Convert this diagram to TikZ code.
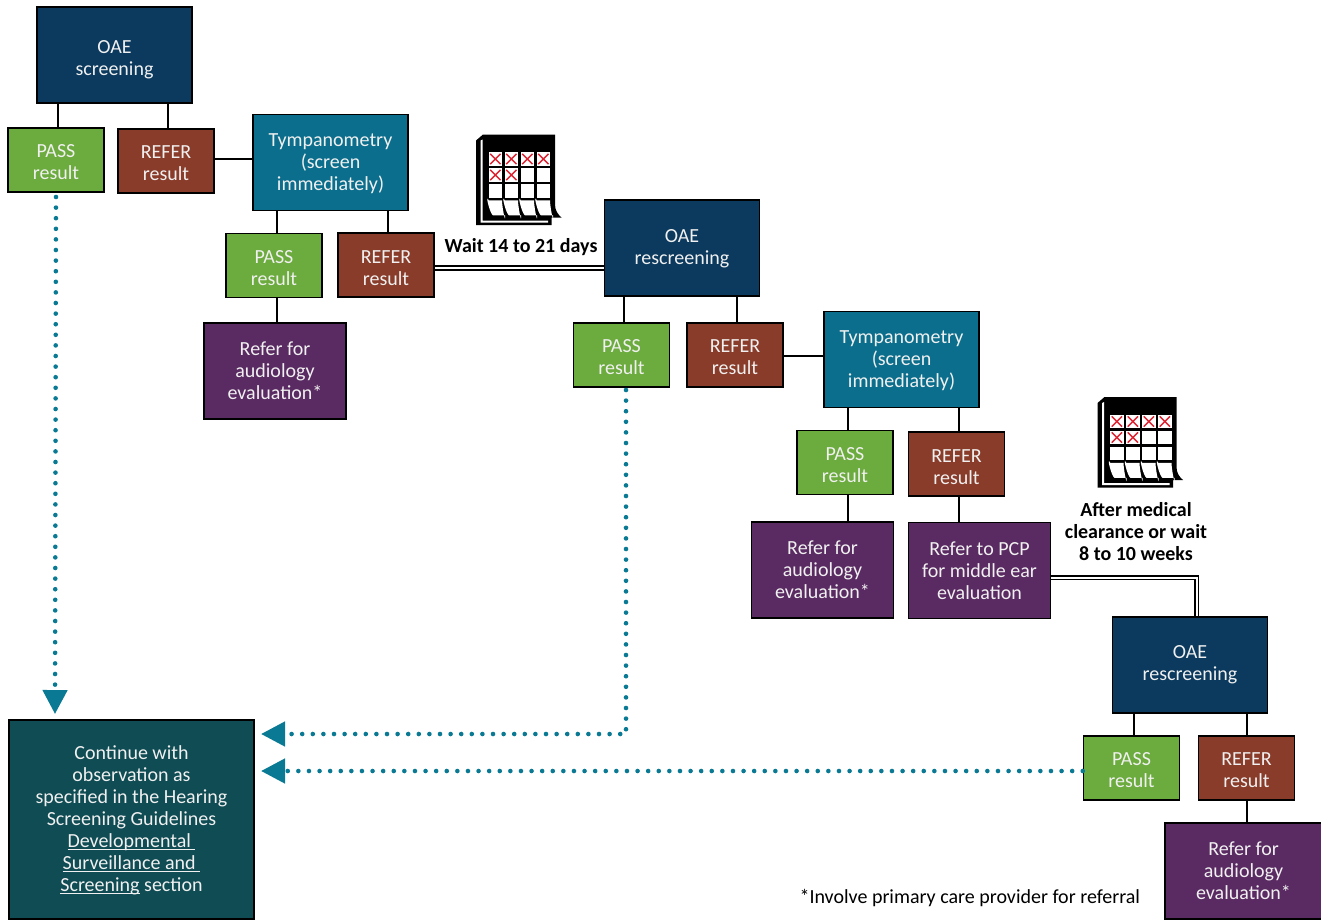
\documentclass[tikz,border=0pt]{standalone}
\usepackage{fontspec}
\setmainfont{Carlito}
\usetikzlibrary{arrows.meta}

\definecolor{navybox}{HTML}{0B3A5E}
\definecolor{tealbox}{HTML}{0B6E8C}
\definecolor{greenbox}{HTML}{6CAB3D}
\definecolor{brownbox}{HTML}{8A3C2A}
\definecolor{purplebox}{HTML}{5A2A62}
\definecolor{pinebox}{HTML}{0F4C54}
\definecolor{dotteal}{HTML}{0A7A94}
\definecolor{crossred}{HTML}{E0202F}

\newcommand{\ulink}[1]{\underline{\smash{#1}}}

\tikzset{
  flowbox/.style={draw=black, line width=1.5pt, text=white!94!black, align=center,
    inner sep=0pt, font=\fontsize{20}{22}\selectfont},
  oaebox/.style={flowbox, fill=navybox, minimum width=155pt, minimum height=96pt},
  tympbox/.style={flowbox, fill=tealbox, minimum width=155pt, minimum height=96pt, text height=60pt},
  passbox/.style={flowbox, fill=greenbox, minimum width=96pt, minimum height=64pt, text height=39pt},
  referbox/.style={flowbox, fill=brownbox, minimum width=96pt, minimum height=64pt, text height=39pt},
  audiobox/.style={flowbox, fill=purplebox, minimum width=142pt, minimum height=96pt},
  conn/.style={draw=black, line width=1.5pt},
  dblconn/.style={draw=black, line width=1.8pt, double=white, double distance=2pt},
  dotconn/.style={draw=dotteal, line width=4.6pt, line cap=round, dash pattern=on 0pt off 10.6pt,
    -{Triangle[width=24pt,length=24pt]}},
  waitlabel/.style={align=center, font=\fontsize{20}{22}\selectfont\bfseries},
  calendar/.pic={
    % page and curl
    \fill[black] (0,6) -- (7,0) -- (79,0) -- (79,70) .. controls (79,76) and (82,80) .. (85.5,83)
      -- (75.5,83) -- (75.5,90.5) -- (0,90.5) -- cycle;
    \fill[white] (4.5,6) -- (6.5,5) -- (6.5,86) -- (72,86) -- (72,88) -- (4.5,88) -- cycle;
    % cells
    \foreach \cx in {0,1,2,3} {
      \foreach \cy in {0,1,2}
      \fill[white] (12.7+16*\cx,17.8+16*\cy) rectangle ++(13.3,13.3);
      \fill[white] (12.7+16*\cx,65.8) -- ++(13.3,0) .. controls ++(0,7) and ++(1,11) .. ++(3,15)
        -- ++(-12,0) .. controls ++(-3,-1) and ++(-4,-8) .. cycle;
    }
    % crossed days
    \foreach \cx/\cy in {0/0,1/0,2/0,3/0,0/1,1/1} {
      \draw[crossred, line width=1.5pt] (14.2+16*\cx,19.3+16*\cy) -- ++(10.3,10.3)
        (24.5+16*\cx,19.3+16*\cy) -- ++(-10.3,10.3);
    }
  }
}

\begin{document}
\begin{tikzpicture}[x=1pt,y=-1pt]

  \useasboundingbox (0,0) rectangle (1321,919);

  % first screen
  \node[oaebox, text height=44pt] (oaeA) at (114.5,55) {OAE\\screening};
  \node[passbox] (passA) at (56,160) {PASS\\result};
  \node[referbox] (referA) at (166,161) {REFER\\result};
  \node[tympbox] (tympA) at (330.5,162.5) {Tympanometry\\(screen\\immediately)};
  \node[passbox, text height=41pt] (passB) at (274,265.5) {PASS\\result};
  \node[referbox, text height=41pt] (referB) at (386,265) {REFER\\result};
  \node[audiobox] (audioA) at (275,371) {Refer for\\audiology\\evaluation*};

  % second screen
  \node[oaebox, text height=36pt] (oaeB) at (682,248) {OAE\\rescreening};
  \node[passbox] (passC) at (621.5,355) {PASS\\result};
  \node[referbox] (referC) at (735,355) {REFER\\result};
  \node[tympbox] (tympB) at (901.5,359.5) {Tympanometry\\(screen\\immediately)};
  \node[passbox, text height=41pt] (passD) at (845,462.5) {PASS\\result};
  \node[referbox, text height=41pt] (referD) at (956.5,464) {REFER\\result};
  \node[audiobox] (audioB) at (822.5,570) {Refer for\\audiology\\evaluation*};
  \node[audiobox] (pcp) at (979.5,570.5) {Refer to PCP\\for middle ear\\evaluation};

  % third screen
  \node[oaebox] (oaeC) at (1190,665) {OAE\\rescreening};
  \node[passbox] (passE) at (1131.5,768) {PASS\\result};
  \node[referbox] (referE) at (1246.5,768) {REFER\\result};
  \node[audiobox, minimum width=157pt] (audioC) at (1243.5,871) {Refer for\\audiology\\evaluation*};

  \node[flowbox, fill=pinebox, minimum width=245pt, minimum height=199pt] (cont) at (131.5,819.5)
    {Continue with\\observation as\\specified in the Hearing\\Screening Guidelines\\
     \ulink{Developmental\ }\\\ulink{Surveillance and\ }\\\ulink{Screening} section};

  % vertical connectors
  \foreach \a/\b/\dx in {oaeA/passA/2, oaeA/referA/2, tympA/passB/3, tympA/referB/2, passB/audioA/2,
    oaeB/passC/2.5, oaeB/referC/2, tympB/passD/3, tympB/referD/2.5, passD/audioB/25.5, referD/pcp/-20.5,
    oaeC/passE/2.5, oaeC/referE/0.5, referE/audioC/3.5}
  \draw[conn] ([xshift=\dx]\b.north) -- ([xshift=\dx]\b.north |- \a.south);

  % horizontal connectors
  \draw[conn] ([yshift=2]referA.east) -- ([yshift=2]referA.east -| tympA.west);
  \draw[conn] ([yshift=-1]referC.east) -- ([yshift=-1]referC.east -| tympB.west);

  % double connectors
  \draw[dblconn] ([yshift=-3]referB.east) -- ([yshift=-3]referB.east -| oaeB.west);
  \draw[dblconn] ([yshift=-7]pcp.east) -| ([xshift=6.5]oaeC.north);

  % dotted connectors
  \coordinate (tipA) at (55,714);
  \coordinate (tipB) at (261,734);
  \coordinate (tipC) at (261,771);
  \coordinate (bendB) at (626,734);
  \draw[dotconn] (56,197) -- (tipA);
  \draw[dotconn] (626,390) -- (bendB) -- (tipB);
  \draw[dotconn] (passE.west |- tipC) -- (tipC);

  % calendars
  \pic at (476,134.5) {calendar};
  \pic at (1097.5,397) {calendar};

  \node[waitlabel] (waitA) at (521,247) {Wait 14 to 21 days};
  \node[waitlabel] (waitB) at (1136,532) {After medical\\clearance or wait\\8 to 10 weeks};
  \node[font=\fontsize{20}{22}\selectfont, anchor=west] (note) at (796,898)
    {*Involve primary care provider for referral};

\end{tikzpicture}
\end{document}
